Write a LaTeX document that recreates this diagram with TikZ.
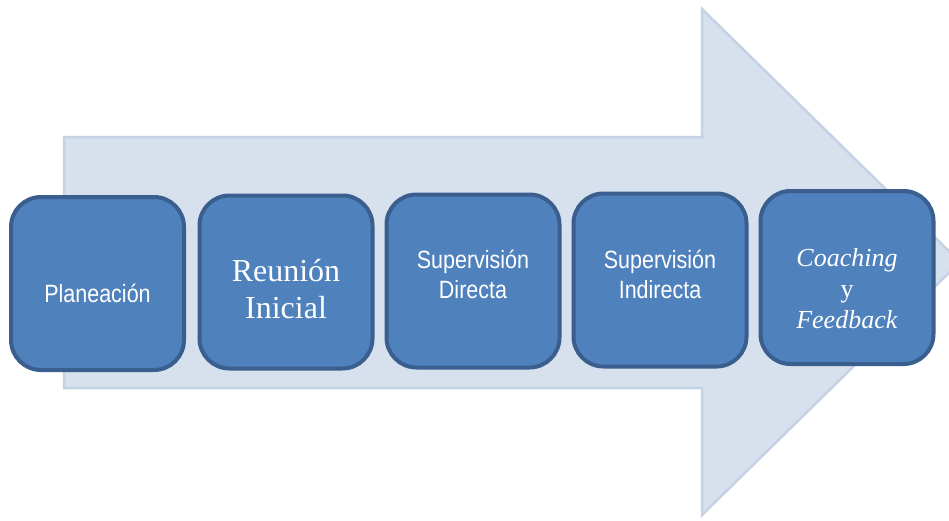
\documentclass[tikz,border=0pt]{standalone}
\usepackage{fontspec}
\setmainfont{Liberation Serif}
\newfontfamily\arialn[FakeStretch=0.86]{Liberation Sans}
\definecolor{arrowfill}{HTML}{D7E1EE}
\definecolor{arrowline}{HTML}{C4D2E4}
\definecolor{boxfill}{HTML}{4F81BD}
\definecolor{boxline}{HTML}{3A5E8D}
\tikzset{
  stagebox/.style={draw=boxline, fill=boxfill, line width=4pt, rounded corners=30pt,
    minimum width=173pt, minimum height=173pt, inner sep=0pt},
  sanslabel/.style={text=white, align=center, inner sep=0pt, font=\arialn\fontsize{25}{30}\selectfont},
  seriflabel/.style={text=white, align=center, inner sep=0pt, font=\fontsize{32}{37}\selectfont},
  itallabel/.style={text=white, align=center, inner sep=0pt, font=\fontsize{26}{31}\selectfont},
}
\begin{document}
\begin{tikzpicture}[x=1pt,y=-1pt]
\useasboundingbox (0,0) rectangle (949,520);
\clip (0,0) rectangle (949,520);
% big background arrow
\draw[draw=arrowline, fill=arrowfill, line width=2.5pt, line join=miter]
  (64,137) -- (702,137) -- (702,9) -- (960,262) -- (702,515) -- (702,388) -- (64,388) -- cycle;
% stage boxes
\node[stagebox] (b1) at (97.5,283.5) {};
\node[stagebox] (b2) at (286,282) {};
\node[stagebox] (b3) at (473,281) {};
\node[stagebox] (b4) at (660,280) {};
\node[stagebox] (b5) at (847,277.5) {};
% labels
\node[seriflabel] (t2) at (286,289.5) {Reunión\\Inicial};
\node[sanslabel] (t1) at (97.5,293) {Planeación};
\node[sanslabel] (t3) at (473,274) {Supervisión\\Directa};
\node[sanslabel] (t4) at (660,274) {Supervisión\\Indirecta};
\node[itallabel] (t5) at (847,289) {\textit{Coaching}\\y\\\textit{Feedback}};
\end{tikzpicture}
\end{document}
